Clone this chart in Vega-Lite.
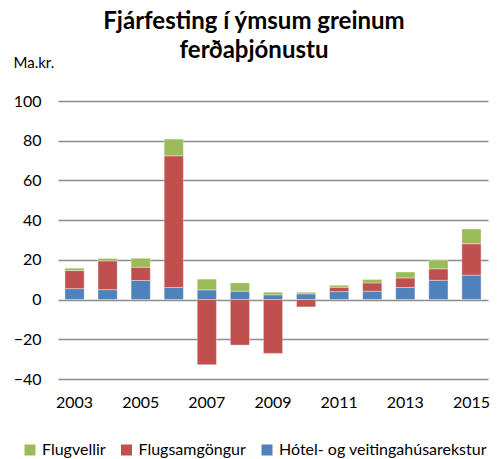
{
  "$schema": "https://vega.github.io/schema/vega-lite/v6.json",
  "width": 430,
  "height": 278,
  "autosize": {"type": "none"},
  "padding": {"left": 58, "top": 101, "right": 14, "bottom": 80},
  "background": "white",
  "config": {
    "font": "Lato",
    "view": {"stroke": null}
  },
  "title": {
    "text": ["Fjárfesting í ýmsum greinum", "ferðaþjónustu"],
    "font": "Lato",
    "fontSize": 24,
    "fontWeight": "bold",
    "color": "#000000",
    "anchor": "middle",
    "dx": -19,
    "lineHeight": 29,
    "offset": -8
  },
  "data": {
    "values": [
      {"year": 2003, "series": "Hótel- og veitingahúsarekstur", "rank": 1, "value": 5.5},
      {"year": 2003, "series": "Flugsamgöngur", "rank": 2, "value": 9.1},
      {"year": 2003, "series": "Flugvellir", "rank": 3, "value": 1.2},
      {"year": 2004, "series": "Hótel- og veitingahúsarekstur", "rank": 1, "value": 5.0},
      {"year": 2004, "series": "Flugsamgöngur", "rank": 2, "value": 14.5},
      {"year": 2004, "series": "Flugvellir", "rank": 3, "value": 1.2},
      {"year": 2005, "series": "Hótel- og veitingahúsarekstur", "rank": 1, "value": 9.6},
      {"year": 2005, "series": "Flugsamgöngur", "rank": 2, "value": 6.7},
      {"year": 2005, "series": "Flugvellir", "rank": 3, "value": 4.5},
      {"year": 2006, "series": "Hótel- og veitingahúsarekstur", "rank": 1, "value": 6.1},
      {"year": 2006, "series": "Flugsamgöngur", "rank": 2, "value": 66.3},
      {"year": 2006, "series": "Flugvellir", "rank": 3, "value": 8.4},
      {"year": 2007, "series": "Hótel- og veitingahúsarekstur", "rank": 1, "value": 4.9},
      {"year": 2007, "series": "Flugsamgöngur", "rank": 2, "value": -32.8},
      {"year": 2007, "series": "Flugvellir", "rank": 3, "value": 5.4},
      {"year": 2008, "series": "Hótel- og veitingahúsarekstur", "rank": 1, "value": 4.2},
      {"year": 2008, "series": "Flugsamgöngur", "rank": 2, "value": -22.9},
      {"year": 2008, "series": "Flugvellir", "rank": 3, "value": 4.2},
      {"year": 2009, "series": "Hótel- og veitingahúsarekstur", "rank": 1, "value": 2.4},
      {"year": 2009, "series": "Flugsamgöngur", "rank": 2, "value": -27.1},
      {"year": 2009, "series": "Flugvellir", "rank": 3, "value": 1.3},
      {"year": 2010, "series": "Hótel- og veitingahúsarekstur", "rank": 1, "value": 2.9},
      {"year": 2010, "series": "Flugsamgöngur", "rank": 2, "value": -3.7},
      {"year": 2010, "series": "Flugvellir", "rank": 3, "value": 0.8},
      {"year": 2011, "series": "Hótel- og veitingahúsarekstur", "rank": 1, "value": 4.0},
      {"year": 2011, "series": "Flugsamgöngur", "rank": 2, "value": 2.2},
      {"year": 2011, "series": "Flugvellir", "rank": 3, "value": 1.0},
      {"year": 2012, "series": "Hótel- og veitingahúsarekstur", "rank": 1, "value": 4.2},
      {"year": 2012, "series": "Flugsamgöngur", "rank": 2, "value": 4.2},
      {"year": 2012, "series": "Flugvellir", "rank": 3, "value": 1.7},
      {"year": 2013, "series": "Hótel- og veitingahúsarekstur", "rank": 1, "value": 6.1},
      {"year": 2013, "series": "Flugsamgöngur", "rank": 2, "value": 4.8},
      {"year": 2013, "series": "Flugvellir", "rank": 3, "value": 3.0},
      {"year": 2014, "series": "Hótel- og veitingahúsarekstur", "rank": 1, "value": 9.7},
      {"year": 2014, "series": "Flugsamgöngur", "rank": 2, "value": 5.8},
      {"year": 2014, "series": "Flugvellir", "rank": 3, "value": 4.3},
      {"year": 2015, "series": "Hótel- og veitingahúsarekstur", "rank": 1, "value": 12.3},
      {"year": 2015, "series": "Flugsamgöngur", "rank": 2, "value": 15.8},
      {"year": 2015, "series": "Flugvellir", "rank": 3, "value": 7.4}
    ]
  },
  "mark": {"type": "bar", "stroke": "white", "strokeWidth": 0.6, "strokeOpacity": 0.6},
  "encoding": {
    "x": {
      "field": "year",
      "type": "ordinal",
      "scale": {"paddingInner": 0.42, "paddingOuter": 0.21},
      "axis": {
        "title": null,
        "labelAngle": 0,
        "values": [2003, 2005, 2007, 2009, 2011, 2013, 2015],
        "ticks": false,
        "domain": false,
        "labelPadding": 15,
        "labelFontSize": 16,
        "labelColor": "#000000",
        "labelFont": "Lato"
      }
    },
    "y": {
      "field": "value",
      "type": "quantitative",
      "stack": "zero",
      "scale": {"domain": [-40, 100], "nice": false},
      "axis": {
        "values": [-40, -20, 0, 20, 40, 60, 80, 100],
        "title": "Ma.kr.",
        "titleAngle": 0,
        "titleAlign": "left",
        "titleBaseline": "middle",
        "titleX": -45,
        "titleY": -39,
        "titleFontWeight": "normal",
        "titleFontSize": 15,
        "titleColor": "#000000",
        "titleFont": "Lato",
        "ticks": false,
        "domain": false,
        "labelPadding": 17,
        "labelFontSize": 16,
        "labelColor": "#000000",
        "labelFont": "Lato",
        "gridColor": "#8c8c8c",
        "gridWidth": 1.5
      }
    },
    "color": {
      "field": "series",
      "type": "nominal",
      "scale": {
        "domain": ["Flugvellir", "Flugsamgöngur", "Hótel- og veitingahúsarekstur"],
        "range": ["#9BBB59", "#C0504D", "#4F81BD"]
      },
      "legend": {
        "title": null,
        "orient": "none",
        "direction": "horizontal",
        "legendX": -36,
        "legendY": 341,
        "symbolType": "square",
        "symbolSize": 121,
        "symbolStrokeWidth": 0,
        "labelFontSize": 16,
        "labelFont": "Lato",
        "labelColor": "#000000",
        "labelOffset": 4,
        "labelLimit": 400,
        "columnPadding": 12.5
      }
    },
    "order": {"field": "rank", "type": "quantitative", "sort": "ascending"}
  }
}
